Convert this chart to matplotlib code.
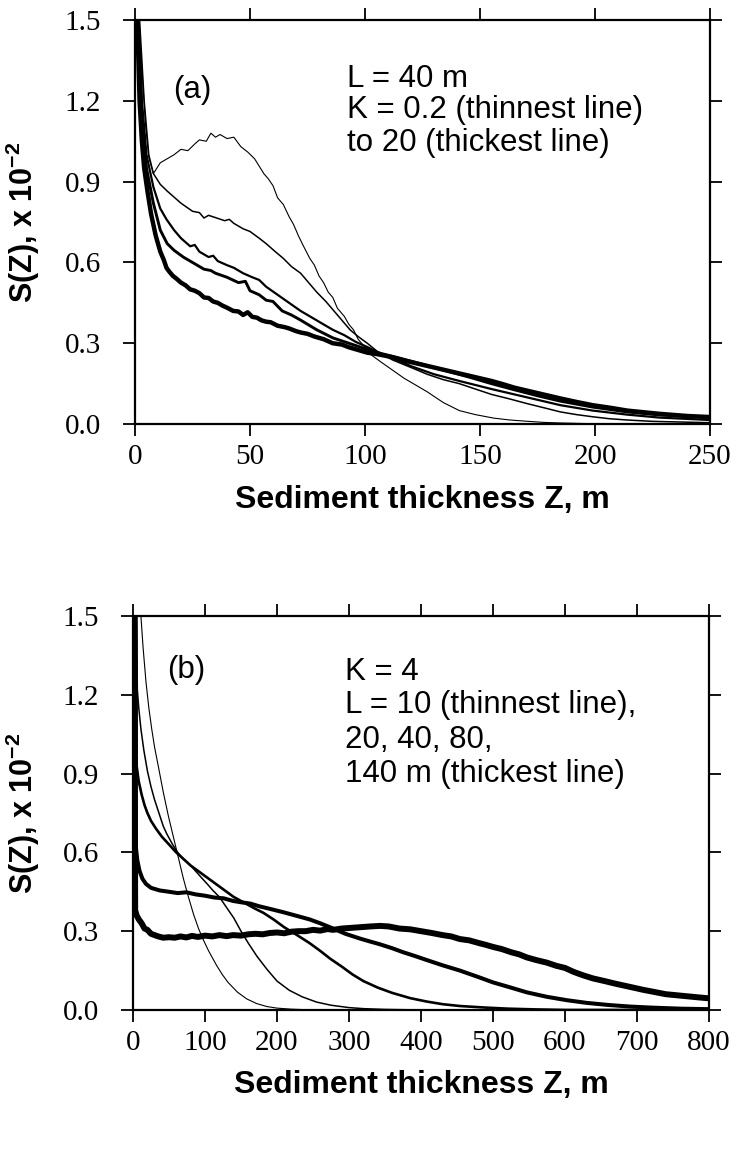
import numpy as np
import matplotlib as mpl
import matplotlib.pyplot as plt

mpl.rcParams['mathtext.fontset'] = 'custom'
mpl.rcParams['mathtext.bf'] = 'Liberation Sans:bold'
mpl.rcParams['mathtext.default'] = 'bf'

# (a) L = 40 m, K = 0.2 ... 20  (thinnest -> thickest line)
za1 = [1.5, 3, 4.5, 6, 8, 11, 14, 17, 20, 23, 26, 28, 31, 33, 35, 37, 40, 43, 46, 49,
       52, 56, 58, 60, 62, 64.5, 67, 69, 71, 73, 76, 78, 80, 82, 84, 86, 88, 91, 93, 95,
       97, 99, 103, 107, 112, 117, 122, 127, 134, 141, 148, 156, 163, 171, 178, 185, 195,
       210, 250]
sa1 = [1.5, 1.32, 1.12, 0.99, 0.93, 0.97, 0.985, 1.0, 1.02, 1.015, 1.04, 1.055, 1.05,
       1.08, 1.065, 1.075, 1.06, 1.065, 1.03, 1.01, 0.985, 0.93, 0.91, 0.885, 0.84, 0.815,
       0.77, 0.74, 0.70, 0.665, 0.615, 0.59, 0.55, 0.525, 0.49, 0.47, 0.43, 0.40, 0.37,
       0.35, 0.315, 0.295, 0.255, 0.23, 0.20, 0.17, 0.145, 0.12, 0.08, 0.05, 0.035, 0.022,
       0.015, 0.01, 0.006, 0.004, 0.002, 0.0, 0.0]

za2 = [2, 4, 6, 8, 11, 14, 18, 20, 22.5, 25, 28, 30, 32, 35.5, 39, 41, 43, 47, 50, 54, 57,
       61, 64.5, 68, 72, 75, 79, 83, 86, 90, 93.5, 97, 101, 106, 112, 120, 127, 134, 141,
       148, 155, 163, 170, 178, 185, 192, 199, 206, 214, 225, 250]
sa2 = [1.5, 1.2, 1.0, 0.93, 0.89, 0.865, 0.835, 0.82, 0.805, 0.79, 0.785, 0.765, 0.775,
       0.765, 0.755, 0.76, 0.745, 0.725, 0.715, 0.69, 0.67, 0.64, 0.615, 0.585, 0.56, 0.53,
       0.49, 0.455, 0.425, 0.385, 0.35, 0.325, 0.30, 0.265, 0.238, 0.21, 0.185, 0.165,
       0.15, 0.13, 0.11, 0.093, 0.077, 0.06, 0.045, 0.035, 0.027, 0.02, 0.015, 0.01, 0.005]

za3 = [1.5, 3, 5, 8, 11, 13.7, 17, 20, 24, 26, 28, 32, 34, 36, 40, 43, 47, 51, 54, 57, 62,
       67, 72, 77, 82, 86, 91, 96, 101, 106, 112, 120, 130, 141, 155, 170, 185, 199, 214,
       228, 250]
sa3 = [1.5, 1.2, 1.0, 0.88, 0.8, 0.76, 0.72, 0.69, 0.66, 0.665, 0.64, 0.62, 0.625, 0.605,
       0.59, 0.58, 0.56, 0.545, 0.535, 0.51, 0.48, 0.45, 0.42, 0.395, 0.37, 0.35, 0.33,
       0.305, 0.286, 0.265, 0.245, 0.215, 0.185, 0.16, 0.13, 0.1, 0.07, 0.05, 0.035, 0.024,
       0.015]

za4 = [1.5, 3, 5, 8, 11, 14, 17, 21, 25, 30, 33, 35, 40, 45, 48, 50, 54, 57, 60, 64, 68,
       72, 79, 86, 93, 100, 107, 115, 125, 135, 145, 155, 165, 175, 185, 199, 214, 228,
       240, 250]
sa4 = [1.5, 1.15, 0.95, 0.82, 0.72, 0.67, 0.645, 0.62, 0.6, 0.575, 0.57, 0.56, 0.545,
       0.525, 0.53, 0.495, 0.48, 0.46, 0.455, 0.42, 0.405, 0.386, 0.35, 0.32, 0.30, 0.28,
       0.262, 0.245, 0.222, 0.198, 0.175, 0.15, 0.127, 0.105, 0.085, 0.063, 0.045, 0.034,
       0.028, 0.025]

za5 = [1, 2, 3, 4, 5.5, 7, 8, 9, 10, 11, 12.5, 13.7, 15, 16.5, 18, 20, 22, 24, 26, 28, 30,
       32, 34, 36, 38, 40, 42.7, 45, 47, 49, 51, 53, 55, 57, 59, 62, 65, 67, 70, 72, 75, 78,
       82, 86, 90, 93, 97, 101, 105, 108, 112, 115, 120, 125, 130, 135, 140, 145, 150,
       155, 160, 165, 170, 175, 180, 185, 192, 199, 207, 214, 221, 228, 234, 240, 245, 250]
sa5 = [1.5, 1.2, 1.05, 0.95, 0.86, 0.78, 0.74, 0.70, 0.67, 0.64, 0.61, 0.58, 0.565, 0.55,
       0.54, 0.525, 0.515, 0.50, 0.495, 0.486, 0.47, 0.468, 0.455, 0.45, 0.44, 0.432, 0.42,
       0.418, 0.405, 0.415, 0.398, 0.395, 0.385, 0.38, 0.378, 0.365, 0.36, 0.355, 0.345,
       0.34, 0.335, 0.325, 0.315, 0.30, 0.295, 0.285, 0.275, 0.265, 0.26, 0.255, 0.248,
       0.24, 0.23, 0.22, 0.21, 0.20, 0.19, 0.18, 0.17, 0.16, 0.148, 0.135, 0.125, 0.115,
       0.105, 0.095, 0.082, 0.07, 0.06, 0.05, 0.044, 0.038, 0.034, 0.03, 0.028, 0.026]

# (b) K = 4, L = 10, 20, 40, 80, 140 m
zb1 = [11, 14, 18, 22, 26, 30, 35, 42, 49, 56, 63, 70, 77, 84, 91, 98, 105, 116, 124,
       132, 145, 158, 172, 186, 200, 220, 250]
sb1 = [1.5, 1.38, 1.25, 1.15, 1.07, 1.0, 0.93, 0.83, 0.74, 0.66, 0.58, 0.50, 0.43, 0.365,
       0.31, 0.265, 0.225, 0.17, 0.135, 0.105, 0.068, 0.042, 0.024, 0.013, 0.007, 0.003, 0.0]

zb2 = [5, 6, 8, 11, 15, 20, 25, 30, 36, 42, 47, 55, 62, 70, 80, 93, 103, 111, 120, 130,
       140, 150, 160, 172, 186, 200, 217, 235, 255, 275, 300, 320, 350, 400]
sb2 = [1.5, 1.22, 1.15, 1.07, 0.99, 0.91, 0.85, 0.80, 0.75, 0.70, 0.67, 0.63, 0.60, 0.575,
       0.55, 0.51, 0.48, 0.455, 0.43, 0.39, 0.35, 0.30, 0.255, 0.205, 0.155, 0.11, 0.075,
       0.05, 0.03, 0.018, 0.009, 0.005, 0.002, 0.0]

zb3 = [4, 5, 8, 12, 16, 20, 25, 32, 40, 50, 60, 70, 80, 90, 100, 110, 120, 130, 140, 150,
       160, 170, 181, 195, 210, 225, 245, 260, 274, 290, 305, 320, 340, 360, 385, 408,
       430, 454, 490, 520, 560, 600, 800]
sb3 = [1.5, 0.93, 0.87, 0.82, 0.78, 0.75, 0.72, 0.69, 0.66, 0.63, 0.60, 0.575, 0.55, 0.53,
       0.51, 0.49, 0.47, 0.45, 0.43, 0.415, 0.40, 0.385, 0.37, 0.345, 0.315, 0.29, 0.255,
       0.225, 0.195, 0.165, 0.135, 0.11, 0.085, 0.065, 0.045, 0.032, 0.022, 0.015, 0.009,
       0.005, 0.002, 0.0, 0.0]

zb4 = [3, 4, 6, 9, 13, 18, 25, 37, 50, 62, 74, 87, 100, 113, 126, 139, 150, 163, 175,
       190, 209, 225, 245, 260, 278, 295, 315, 330, 343, 360, 375, 392, 408, 430, 454,
       480, 500, 525, 547, 575, 603, 630, 660, 690, 720, 760, 800]
sb4 = [1.5, 0.62, 0.57, 0.53, 0.50, 0.48, 0.465, 0.455, 0.45, 0.445, 0.448, 0.44, 0.435,
       0.428, 0.425, 0.415, 0.41, 0.405, 0.395, 0.385, 0.372, 0.36, 0.345, 0.33, 0.31,
       0.29, 0.272, 0.26, 0.25, 0.235, 0.22, 0.205, 0.19, 0.17, 0.15, 0.125, 0.105, 0.085,
       0.067, 0.05, 0.037, 0.027, 0.019, 0.013, 0.009, 0.005, 0.003]

zb5 = [2, 3, 5, 8, 12, 16, 20, 25, 30, 35, 42, 50, 58, 66, 74, 82, 90, 100, 110, 120,
       130, 139, 150, 160, 170, 180, 190, 200, 210, 220, 230, 240, 250, 260, 270, 278, 290,
       300, 315, 330, 343, 355, 370, 385, 400, 415, 430, 442, 454, 467, 480, 490, 500,
       512, 525, 536, 547, 560, 575, 588, 600, 612, 625, 639, 655, 670, 690, 708, 725,
       740, 755, 770, 785, 797]
sb5 = [1.5, 0.38, 0.36, 0.345, 0.33, 0.31, 0.305, 0.29, 0.285, 0.28, 0.275, 0.277, 0.275,
       0.28, 0.276, 0.282, 0.278, 0.283, 0.28, 0.285, 0.281, 0.285, 0.283, 0.288, 0.29,
       0.288, 0.293, 0.295, 0.292, 0.298, 0.30, 0.30, 0.305, 0.302, 0.308, 0.305, 0.31,
       0.312, 0.315, 0.318, 0.32, 0.318, 0.31, 0.307, 0.30, 0.293, 0.285, 0.28, 0.27,
       0.265, 0.255, 0.248, 0.24, 0.232, 0.22, 0.212, 0.20, 0.19, 0.18, 0.168, 0.16, 0.145,
       0.132, 0.12, 0.11, 0.10, 0.088, 0.077, 0.068, 0.06, 0.056, 0.052, 0.048, 0.045]

curves_a = [(za1, sa1), (za2, sa2), (za3, sa3), (za4, sa4), (za5, sa5)]
curves_b = [(zb1, sb1), (zb2, sb2), (zb3, sb3), (zb4, sb4), (zb5, sb5)]
widths_a = [0.8, 1.1, 1.6, 2.1, 3.2]
widths_b = [0.8, 1.1, 1.9, 2.9, 4.3]

yticks = [0.0, 0.3, 0.6, 0.9, 1.2, 1.5]

fig = plt.figure(figsize=(7.36, 11.52), dpi=100)
ax0 = fig.add_axes([0.1834, 0.6319, 0.7813, 0.3507])
ax1 = fig.add_axes([0.1807, 0.1233, 0.7826, 0.3420])

serif = 'Liberation Serif'
sans = 'Liberation Sans'


def style(ax, xmax, xstep, xlab_y, ylab_x):
    ax.set_xlim(0, xmax)
    ax.set_ylim(0, 1.5)
    ax.set_xticks(np.arange(0, xmax + 1, xstep))
    ax.set_yticks(yticks)
    ax.set_yticklabels(['%.1f' % v for v in yticks])
    for s in ax.spines.values():
        s.set_linewidth(1.6)
    ax.tick_params(direction='out', length=8.6, width=1.3, top=True, right=True,
                   labelsize=21)
    ax.tick_params(axis='y', pad=16)
    ax.tick_params(axis='x', pad=6)
    for lab in ax.get_xticklabels() + ax.get_yticklabels():
        lab.set_family(serif)
    ax.set_xlabel('Sediment thickness Z, m', family=sans, weight='bold', fontsize=23)
    ax.set_ylabel(r'S(Z), x 10$^{-2}$', family=sans, weight='bold', fontsize=22)
    ax.xaxis.set_label_coords(0.5, xlab_y)
    ax.yaxis.set_label_coords(ylab_x, 0.5)


def note(ax, x, y, s):
    ax.text(x, y, s, family=sans, fontsize=22.5, va='baseline')


for (z, s), w in zip(curves_a, widths_a):
    ax0.plot(z, s, c='k', lw=w)
style(ax0, 250, 50, -0.15, -0.162)
note(ax0, 16.5, 1.209, '(a)')
note(ax0, 92, 1.250, 'L = 40 m')
note(ax0, 92, 1.135, 'K = 0.2 (thinnest line)')
note(ax0, 92, 1.015, 'to 20 (thickest line)')

for (z, s), w in zip(curves_b, widths_b):
    ax1.plot(z, s, c='k', lw=w)
style(ax1, 800, 100, -0.152, -0.158)
note(ax1, 47, 1.262, '(b)')
note(ax1, 294, 1.256, 'K = 4')
note(ax1, 294, 1.129, 'L = 10 (thinnest line),')
note(ax1, 294, 0.999, '20, 40, 80,')
note(ax1, 294, 0.869, '140 m (thickest line)')

fig.savefig('out.png', dpi=100)
